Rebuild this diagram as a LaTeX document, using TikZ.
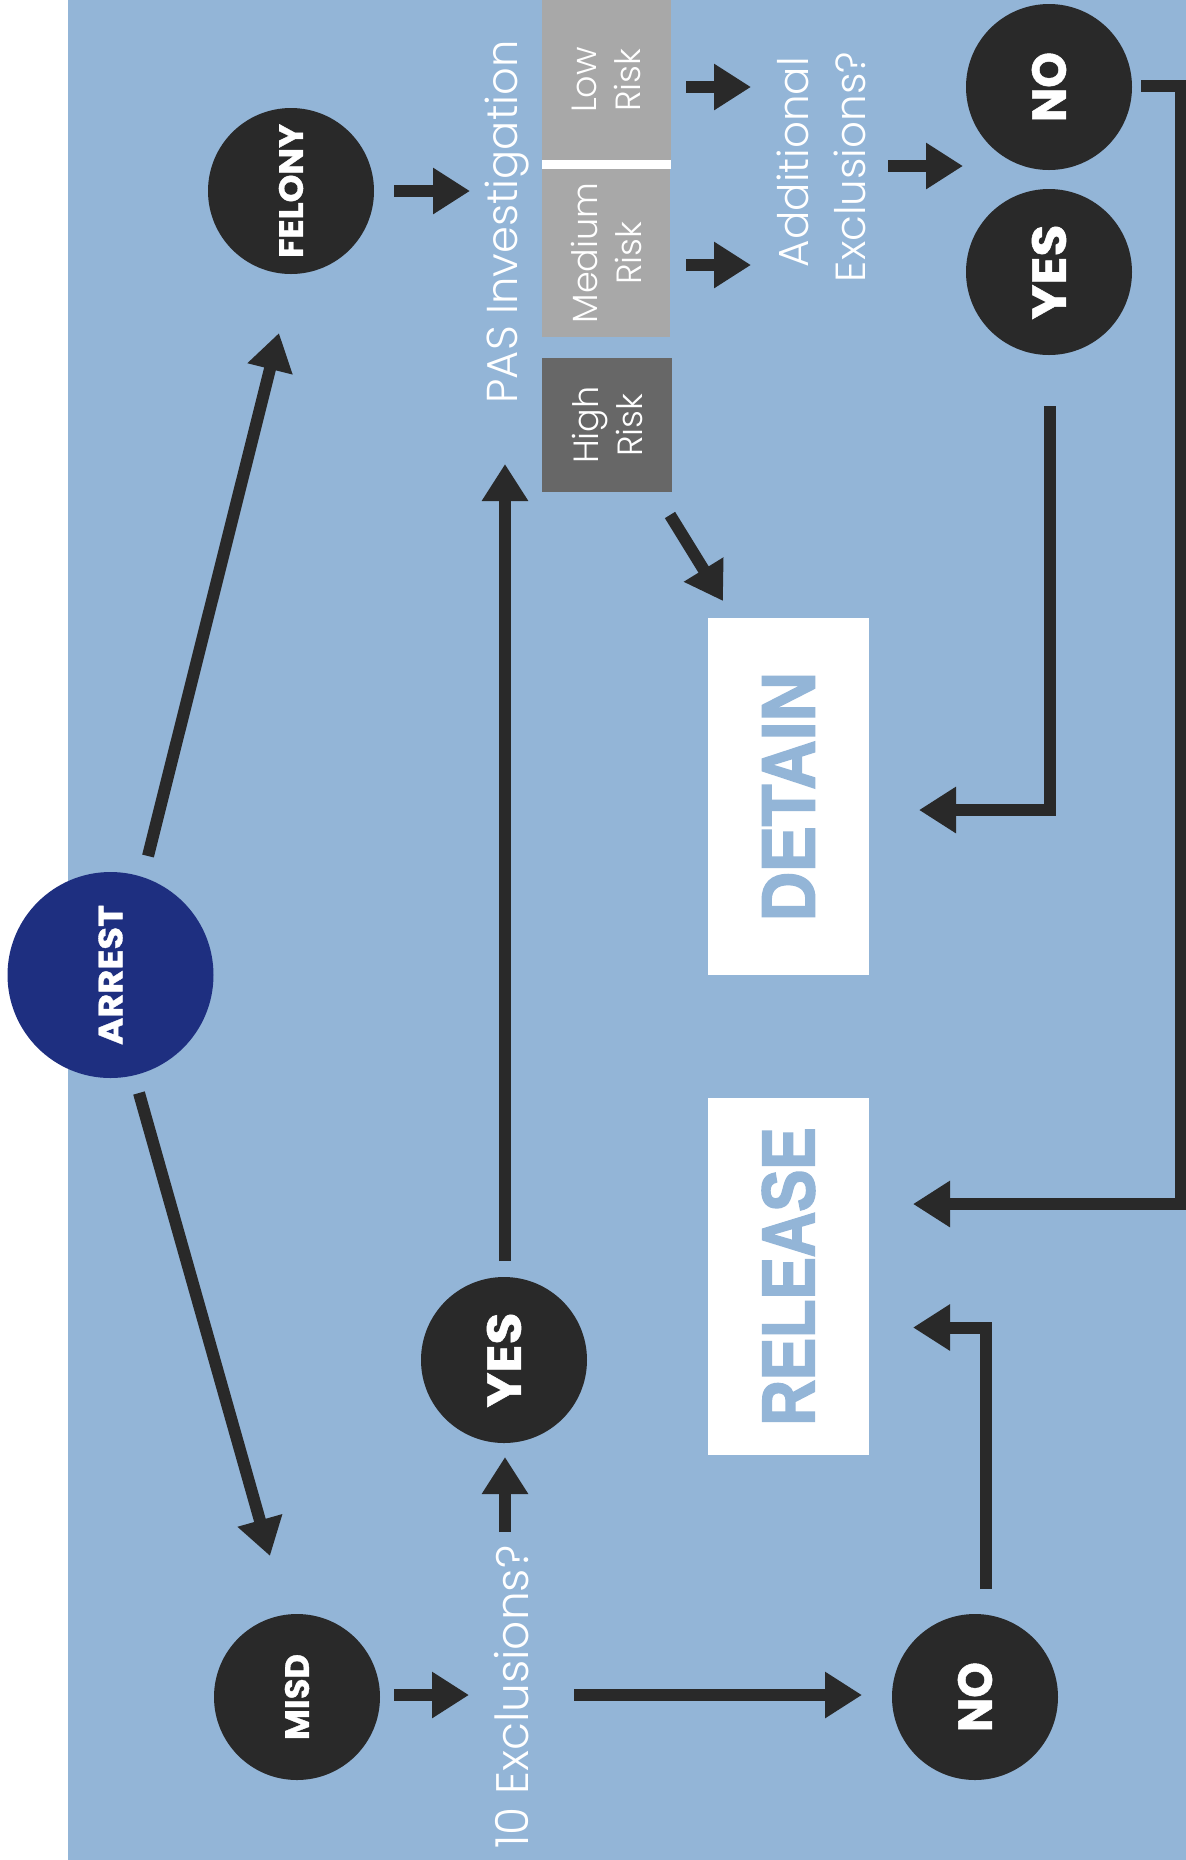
\documentclass[tikz,border=0pt]{standalone}
\usepackage{fontspec}
\usetikzlibrary{arrows.meta,calc}
\newfontfamily\lightf{Poppins Light}
\newfontfamily\boldf{Poppins}[BoldFeatures={FakeBold=1}]
\newfontfamily\heavyf{Liberation Sans}[BoldFeatures={FakeBold=2.5}]
\definecolor{bgblue}{HTML}{93B5D7}
\definecolor{navy}{HTML}{1E2F80}
\definecolor{dark}{HTML}{292929}
\definecolor{riskgray}{HTML}{A8A8A8}
\definecolor{highgray}{HTML}{676767}
\begin{document}
\begin{tikzpicture}[x=0.5pt,y=-0.5pt,
 circ/.style={circle, fill=dark, minimum size=83pt, inner sep=0pt, text=white, rotate=90},
 arr/.style={draw=dark, line width=6pt, -{Triangle[length=18.5pt,width=22pt]}, line join=miter},
 thintext/.style={text=white, rotate=90, anchor=base, inner sep=0pt},
 riskbox/.style={rotate=90, inner sep=0pt, text=white, align=center, font=\lightf\fontsize{17.5pt}{22pt}\selectfont},
 outbox/.style={fill=white, inner sep=0pt, rotate=90, text=bgblue, minimum width=178.5pt, minimum height=80.5pt}]
\useasboundingbox (0,0) rectangle (1186,1860);
\fill[white] (0,0) rectangle (1186,1860);
\fill[bgblue] (68,0) rectangle (1186,1860);

% circles
\node[circ, fill=navy, minimum size=103pt] (arrest) at (110.5,975) {\resizebox{70pt}{12pt}{\boldf\bfseries ARREST}};
\node[circ] (felony) at (291,191) {\resizebox{67pt}{12pt}{\boldf\bfseries FELONY}};
\node[circ] (misd) at (297,1697) {\resizebox{43pt}{12pt}{\boldf\bfseries MISD}};
\node[circ] (yes1) at (504,1360) {\resizebox{47.5pt}{17pt}{\boldf\bfseries YES}};
\node[circ] (no1) at (975,1697) {\resizebox{35pt}{17pt}{\boldf\bfseries NO}};
\node[circ] (no2) at (1049,87) {\resizebox{35pt}{17pt}{\boldf\bfseries NO}};
\node[circ] (yes2) at (1049,272) {\resizebox{47.5pt}{17pt}{\boldf\bfseries YES}};

% texts
\node[thintext] (pas) at (517,222) {\resizebox{181.5pt}{!}{\lightf PAS Investigation}};
\node[thintext] (excl) at (528,1697) {\resizebox{151.5pt}{!}{\lightf 10 Exclusions?}};
\node[thintext] (addl1) at (808,162) {\resizebox{105pt}{!}{\lightf Additional}};
\node[thintext] (addl2) at (865,167) {\resizebox{115pt}{!}{\lightf Exclusions?}};

% risk boxes
\node[riskbox, fill=riskgray, minimum width=80pt, minimum height=64.5pt] (low) at (606.5,80) {Low\\Risk};
\node[riskbox, fill=riskgray, minimum width=84pt, minimum height=64pt] (med) at (606,253) {Medium\\Risk};
\node[riskbox, fill=highgray, minimum width=67pt, minimum height=65pt] (high) at (607,425) {High\\Risk};
\fill[white] (542,160) rectangle (671,169);

% outcome boxes
\node[outbox] (detain) at (788.5,796.5) {\resizebox{124.5pt}{26pt}{\heavyf\bfseries DETAIN}};
\node[outbox] (release) at (788.5,1276.5) {\resizebox{149pt}{26pt}{\heavyf\bfseries RELEASE}};

% connectors
\draw[arr] ($(arrest)+(37.5,-119)$) -- ($(felony)+(-12,142)$);
\draw[arr] ($(arrest)+(28.5,118)$) -- ($(misd)+(-27,-141)$);
\draw[arr] ($(felony)+(103,0)$) -- ($(pas.base)+(-47,-31)$);
\draw[arr] ($(misd)+(97,-2)$) -- ($(excl.base)+(-59,-2)$);
\draw[arr] ($(excl.base)+(46,-2)$) -- ($(no1)+(-113,-2)$);
\draw[arr] ($(excl.base)+(-23,-165)$) -- ($(yes1)+(1,97)$);
\draw[arr] ($(yes1)+(1,-99)$) -- ($(pas.base)+(-12,242)$);
\draw[arr] ($(high)+(63,90)$) -- ($(detain)+(-65.5,-195.5)$);
\draw[arr] ($(low)+(79.5,7)$) -- ($(addl1.base)+(-57,-75)$);
\draw[arr] ($(med)+(80,12)$) -- ($(addl1.base)+(-57,103)$);
\draw[arr] ($(addl2.base)+(23,-1)$) -- ($(no2)+(-86,79)$);
\draw[arr] ($(no2)+(92,-1)$) -- ++(40,0) |- ($(release)+(124.5,-72.5)$);
\draw[arr] ($(yes2)+(1,134)$) |- ($(detain)+(130.5,13.5)$);
\draw[arr] ($(no1)+(11,-108)$) |- ($(release)+(124.5,51)$);
\end{tikzpicture}
\end{document}
